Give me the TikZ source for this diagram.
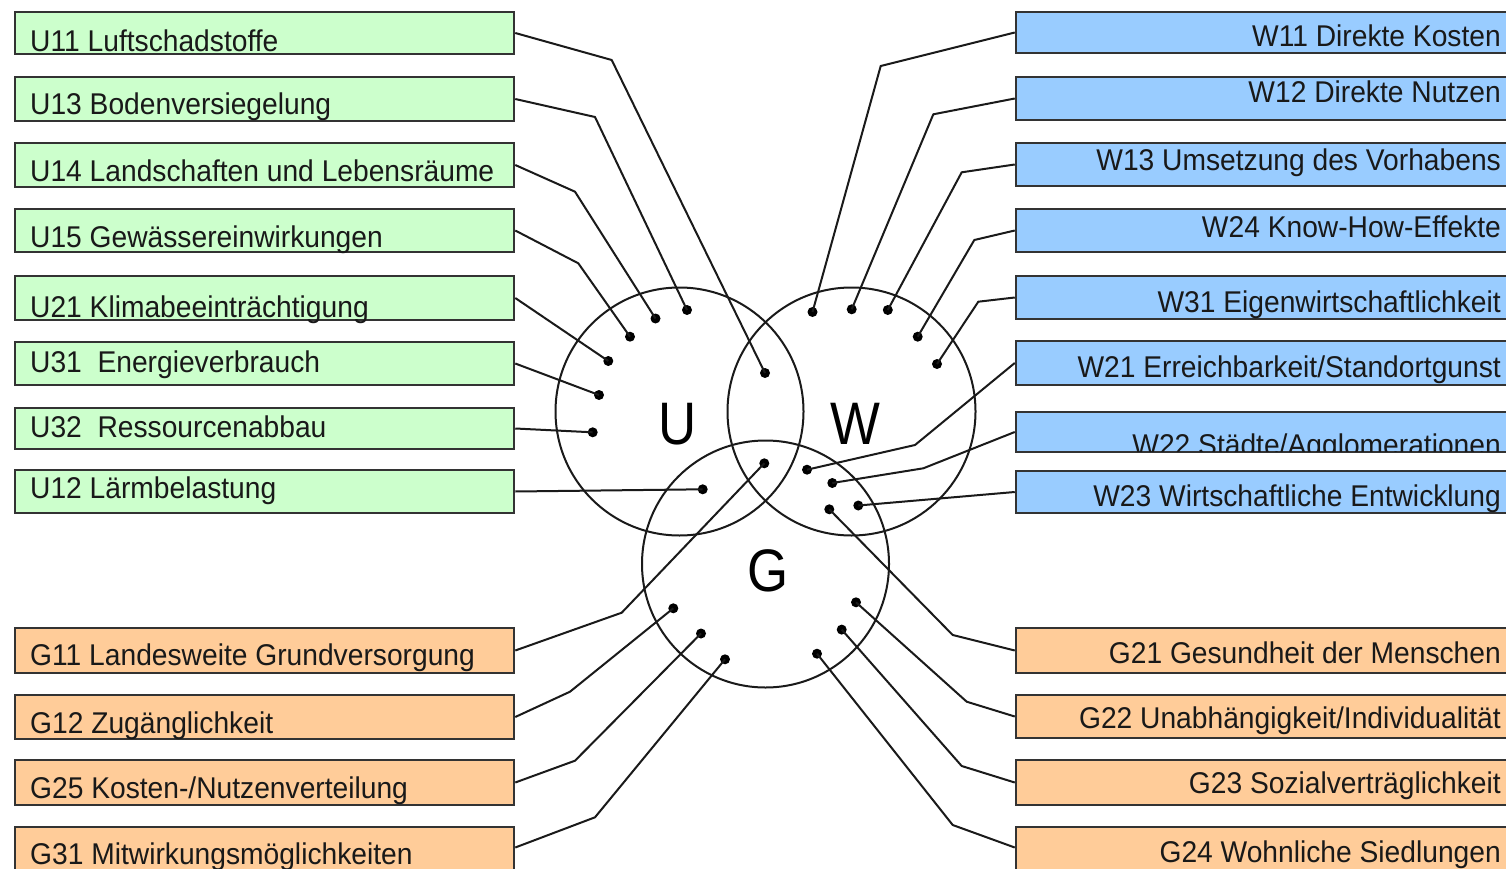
\documentclass[tikz,border=0pt]{standalone}
\usepackage{fontspec}
\setmainfont{Liberation Sans}
\newfontfamily\labfont[FakeStretch=0.94]{Liberation Sans}
\newfontfamily\bigfont[FakeStretch=0.88]{Liberation Sans}
\definecolor{ugreen}{HTML}{CCFFCC}
\definecolor{wblue}{HTML}{99CCFF}
\definecolor{gorange}{HTML}{FFCC99}
\definecolor{boxline}{HTML}{333333}
\definecolor{lineclr}{HTML}{1A1A1A}
\newcommand\mkL[6]{%
  \node[#2, minimum width=499pt, minimum height={(#4-#3)*1pt}] (#1) at (264.5,{(#3+#4)/2}) {};
  \node[lab, anchor=base west] (#1t) at (30,#5) {#6};}
\newcommand\mkR[6]{%
  \node[#2, minimum width=500pt, minimum height={(#4-#3)*1pt}] (#1) at (1266,{(#3+#4)/2}) {};
  \node[lab, anchor=base east] (#1t) at (1501,#5) {#6};}
\begin{document}
\begin{tikzpicture}[x=1pt,y=-1pt,
  gbox/.style={draw=boxline, line width=2.5pt, fill=ugreen, inner sep=0},
  bbox/.style={draw=boxline, line width=2.5pt, fill=wblue, inner sep=0},
  obox/.style={draw=boxline, line width=2.5pt, fill=gorange, inner sep=0},
  lab/.style={inner sep=0, text=black!90, font=\labfont\fontsize{30}{36}\selectfont},
  conn/.style={line width=2pt, draw=lineclr, line join=round},
  dot/.style={circle, fill=black, inner sep=0, minimum size=10pt},
  ring/.style={circle, draw=lineclr, line width=2pt, inner sep=0},
  big/.style={inner sep=0, font=\bigfont\fontsize{60}{60}\selectfont}]
\fill[white] (0,0) rectangle (1506,869);
\useasboundingbox (0,0) rectangle (1506,869);

% left boxes
\mkL{U11}{gbox}{12}{54}{52}{U11 Luftschadstoffe}
\mkL{U13}{gbox}{77}{121}{115}{U13 Bodenversiegelung}
\mkL{U14}{gbox}{143}{187}{182}{U14 Landschaften und Lebensräume}
\mkL{U15}{gbox}{209}{252}{247}{U15 Gewässereinwirkungen}
\mkL{U21}{gbox}{276}{320}{317}{U21 Klimabeeinträchtigung}
\mkL{U31}{gbox}{342}{385}{372}{U31\ \ Energieverbrauch}
\mkL{U32}{gbox}{408}{449}{437}{U32\ \ Ressourcenabbau}
\mkL{U12}{gbox}{470}{513}{498}{U12 Lärmbelastung}
\mkL{G11}{obox}{628}{673}{665}{G11 Landesweite Grundversorgung}
\mkL{G12}{obox}{695}{739}{733}{G12 Zugänglichkeit}
\mkL{G25}{obox}{760}{805}{798}{G25 Kosten-/Nutzenverteilung}
\mkL{G31}{obox}{827}{880}{864}{G31 Mitwirkungsmöglichkeiten}

% right boxes
\mkR{W11}{bbox}{12}{53}{47}{W11 Direkte Kosten}
\mkR{W12}{bbox}{77}{120}{103}{W12 Direkte Nutzen}
\mkR{W13}{bbox}{143}{186}{171}{W13 Umsetzung des Vorhabens}
\mkR{W24}{bbox}{209}{252}{237}{W24 Know-How-Effekte}
\mkR{W31}{bbox}{276}{319}{312}{W31 Eigenwirtschaftlichkeit}
\mkR{W21}{bbox}{341}{385}{377}{W21 Erreichbarkeit/Standortgunst}
\node[bbox, minimum width=500pt, minimum height=40pt] (W22) at (1266,432) {};
\begin{scope}
  \clip (1016,412) rectangle (1520,451);
  \node[lab, anchor=base east] (W22t) at (1501,455) {W22 Städte/Agglomerationen};
\end{scope}
\mkR{W23}{bbox}{471}{513}{506}{W23 Wirtschaftliche Entwicklung}
\mkR{G21}{obox}{628}{673}{663}{G21 Gesundheit der Menschen}
\mkR{G22}{obox}{695}{738}{728}{G22 Unabhängigkeit/Individualität}
\mkR{G23}{obox}{760}{805}{793}{G23 Sozialverträglichkeit}
\mkR{G24}{obox}{827}{880}{862}{G24 Wohnliche Siedlungen}

% circles
\node[ring, minimum size=248pt] (U) at (679.5,411.5) {};
\node[ring, minimum size=248pt] (W) at (851.5,411.5) {};
\node[ring, minimum size=247pt] (G) at (765.5,564) {};
\node[big] (Ul) at (678,424) {U};
\node[big] (Wl) at (855,424) {W};
\node[big] (Gl) at (768,571) {G};

% dots
\node[dot] (dU11) at (765,373) {};
\node[dot] (dU13) at (687,310) {};
\node[dot] (dU14) at (655.5,318.5) {};
\node[dot] (dU15) at (630,336.7) {};
\node[dot] (dU21) at (608.3,361) {};
\node[dot] (dU31) at (599,395) {};
\node[dot] (dU32) at (592.7,432.3) {};
\node[dot] (dU12) at (702.7,489.3) {};
\node[dot] (dG11) at (764.3,463.3) {};
\node[dot] (dG12) at (673.3,608.3) {};
\node[dot] (dG25) at (701,633.5) {};
\node[dot] (dG31) at (725,659.3) {};
\node[dot] (dW11) at (812.5,312) {};
\node[dot] (dW12) at (851.7,309.3) {};
\node[dot] (dW13) at (887.8,310) {};
\node[dot] (dW24) at (917.7,336.7) {};
\node[dot] (dW31) at (937,364) {};
\node[dot] (dW21) at (807,469.7) {};
\node[dot] (dW22) at (832.3,483) {};
\node[dot] (dW23) at (858.3,505.5) {};
\node[dot] (dG21) at (829.3,509.3) {};
\node[dot] (dG22) at (856,602.3) {};
\node[dot] (dG23) at (841.7,629.6) {};
\node[dot] (dG24) at (817,653.7) {};

% connectors left
\draw[conn] (U11.east) -- (611.7,60) -- (dU11.center);
\draw[conn] (U13.east) -- (595,117) -- (dU13.center);
\draw[conn] (U14.east) -- (575,191.7) -- (dU14.center);
\draw[conn] (U15.east) -- (578.3,263.3) -- (dU15.center);
\draw[conn] (U21.east) -- (dU21.center);
\draw[conn] (U31.east) -- (dU31.center);
\draw[conn] (U32.east) -- (dU32.center);
\draw[conn] (U12.east) -- (dU12.center);
\draw[conn] (G11.east) -- (621.7,612.7) -- (dG11.center);
\draw[conn] (G12.east) -- (570,691.7) -- (dG12.center);
\draw[conn] (G25.east) -- (575,760.7) -- (dG25.center);
\draw[conn] ([yshift=6pt]G31.east) -- (595,817.3) -- (dG31.center);

% connectors right
\draw[conn] (W11.west) -- (880.7,66) -- (dW11.center);
\draw[conn] (W12.west) -- (933.3,114.3) -- (dW12.center);
\draw[conn] (W13.west) -- (961.7,172.3) -- (dW13.center);
\draw[conn] (W24.west) -- (974.3,240) -- (dW24.center);
\draw[conn] (W31.west) -- (978.3,301.7) -- (dW31.center);
\draw[conn] (W21.west) -- (915,445) -- (dW21.center);
\draw[conn] (W22.west) -- (923.3,468.3) -- (dW22.center);
\draw[conn] (W23.west) -- (dW23.center);
\draw[conn] (G21.west) -- (952.7,635) -- (dG21.center);
\draw[conn] (G22.west) -- (966.7,701.7) -- (dG22.center);
\draw[conn] (G23.west) -- (961.7,766) -- (dG23.center);
\draw[conn] ([yshift=6pt]G24.west) -- (952.7,825) -- (dG24.center);
\end{tikzpicture}
\end{document}
